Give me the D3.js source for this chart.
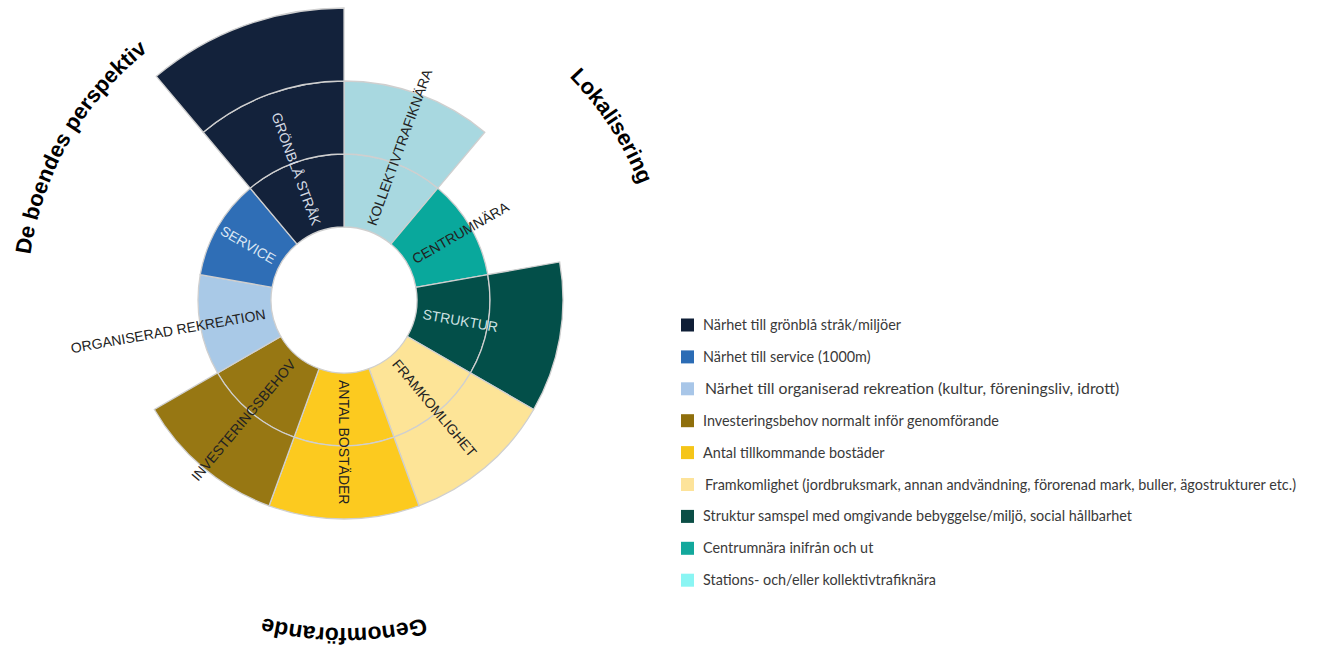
<!DOCTYPE html>
<html>
<head>
<meta charset="utf-8">
<script src="https://cdn.jsdelivr.net/npm/d3@7"></script>
<style>
  body { margin: 0; background: #fff; }
  svg { display: block; }
</style>
</head>
<body>
<svg id="chart" width="1336" height="648"></svg>
<script>
// sektorer medurs från kl 12
const categories = ['KOLLEKTIVTRAFIKNÄRA', 'CENTRUMNÄRA', 'STRUKTUR', 'FRAMKOMLIGHET', 'ANTAL BOSTÄDER',
  'INVESTERINGSBEHOV', 'ORGANISERAD REKREATION', 'SERVICE', 'GRÖNBLÅ STRÅK']
const values = [2, 1, 2, 2, 2, 2, 1, 1, 3]
const colors = ['#a8d8e0', '#09a89c', '#034f49', '#fde497', '#fcca1f', '#977713', '#a9c9e7', '#2f6eb6', '#13223b']
const labelColors = ['#222', '#222', '#cfe2e2', '#222', '#222', '#222', '#222', '#dbe7f4', '#d5dbe4']

const groups = ['Lokalisering', 'Genomförande', 'De boendes perspektiv']
const groupAngles = [57, 180, 300]

const legendLabels = ['Närhet till grönblå stråk/miljöer', 'Närhet till service (1000m)',
  'Närhet till organiserad rekreation (kultur, föreningsliv, idrott)', 'Investeringsbehov normalt inför genomförande',
  'Antal tillkommande bostäder', 'Framkomlighet (jordbruksmark, annan andvändning, förorenad mark, buller, ägostrukturer etc.)',
  'Struktur samspel med omgivande bebyggelse/miljö, social hållbarhet', 'Centrumnära inifrån och ut',
  'Stations- och/eller kollektivtrafiknära']
const legendColors = ['#0f1e36', '#2b6cb5', '#a8c6e8', '#8f6f0c', '#f5c518', '#fde39a', '#0b4e46', '#13a89c', '#8af5f3']

let svg = d3.select('#chart')
let cx = 344, cy = 300

let angle = d3.scaleBand().domain(categories).range([0, 2 * Math.PI])
let r = d3.scaleLinear().domain([0, 3]).range([73, 292])

let chart = svg.append('g').attr('transform', `translate(${cx},${cy})`)

// segment för varje nivå i varje sektor
let segs = []
categories.forEach(function (c, i) {
  for (let k = 0; k < values[i]; k++) segs.push({ cat: c, i: i, k: k })
})

let arc = d3.arc()
  .innerRadius(d => r(d.k))
  .outerRadius(d => r(d.k + 1))
  .startAngle(d => angle(d.cat))
  .endAngle(d => angle(d.cat) + angle.bandwidth())

chart.selectAll('.seg')
  .data(segs)
  .enter()
  .append('path')
  .attr('class', 'seg')
  .attr('d', arc)
  .style('fill', d => colors[d.i])
  .style('stroke', '#cfcfcf')
  .style('stroke-width', 1.3)

// etiketter längs radien
let labelR = 80
categories.forEach(function (c, i) {
  let a = (angle(c) + angle.bandwidth() / 2) * 180 / Math.PI
  let g = chart.append('g').attr('transform', `rotate(${a - 90})`)
  let t = g.append('text')
    .attr('dy', '0.36em')
    .style('font-family', '"Liberation Sans", Arial, Helvetica, sans-serif')
    .style('font-size', '14px')
    .style('fill', labelColors[i])
    .text(c)
  if (a <= 180) {
    t.attr('x', labelR).attr('text-anchor', 'start')
  } else {
    t.attr('transform', 'rotate(180)').attr('x', -labelR).attr('text-anchor', 'end')
  }
})

// rubriker på cirkelbåge (nedre rubriken ligger lite längre ut)
groups.forEach(function (gname, i) {
  let R = groupAngles[i] == 180 ? 328 : 317
  let fs = groupAngles[i] == 180 ? 23 : 22
  chart.append('path')
    .attr('id', 'titleArc' + i)
    .attr('d', `M0,${-R} A${R},${R} 0 1 1 0,${R} A${R},${R} 0 1 1 0,${-R}`)
    .style('fill', 'none')
  chart.append('text')
    .style('font-family', '"Liberation Sans", Arial, Helvetica, sans-serif')
    .style('font-size', fs + 'px')
    .style('font-weight', 'bold')
    .style('fill', '#000')
    .append('textPath')
    .attr('href', '#titleArc' + i)
    .attr('startOffset', (groupAngles[i] / 360 * 100) + '%')
    .attr('text-anchor', 'middle')
    .text(gname)
})

// förklaring
let legend = svg.append('g').attr('transform', 'translate(681,325)')
let rowH = 31.9
let rows = legend.selectAll('.row')
  .data(legendLabels)
  .enter()
  .append('g')
  .attr('class', 'row')
  .attr('transform', (d, i) => `translate(0,${i * rowH})`)

rows.append('rect')
  .attr('x', 0).attr('y', -6.5)
  .attr('width', 13).attr('height', 13)
  .style('fill', (d, i) => legendColors[i])

// tredje raden är satt i något större stil i originalet
rows.append('text')
  .attr('x', (d, i) => i == 2 || i == 5 ? 24 : 22)
  .attr('dy', '0.35em')
  .style('font-family', 'Lato, "Open Sans", sans-serif')
  .style('font-size', (d, i) => i == 2 ? '15.8px' : '14.4px')
  .style('fill', '#3a3a3a')
  .text(d => d)
</script>
</body>
</html>
